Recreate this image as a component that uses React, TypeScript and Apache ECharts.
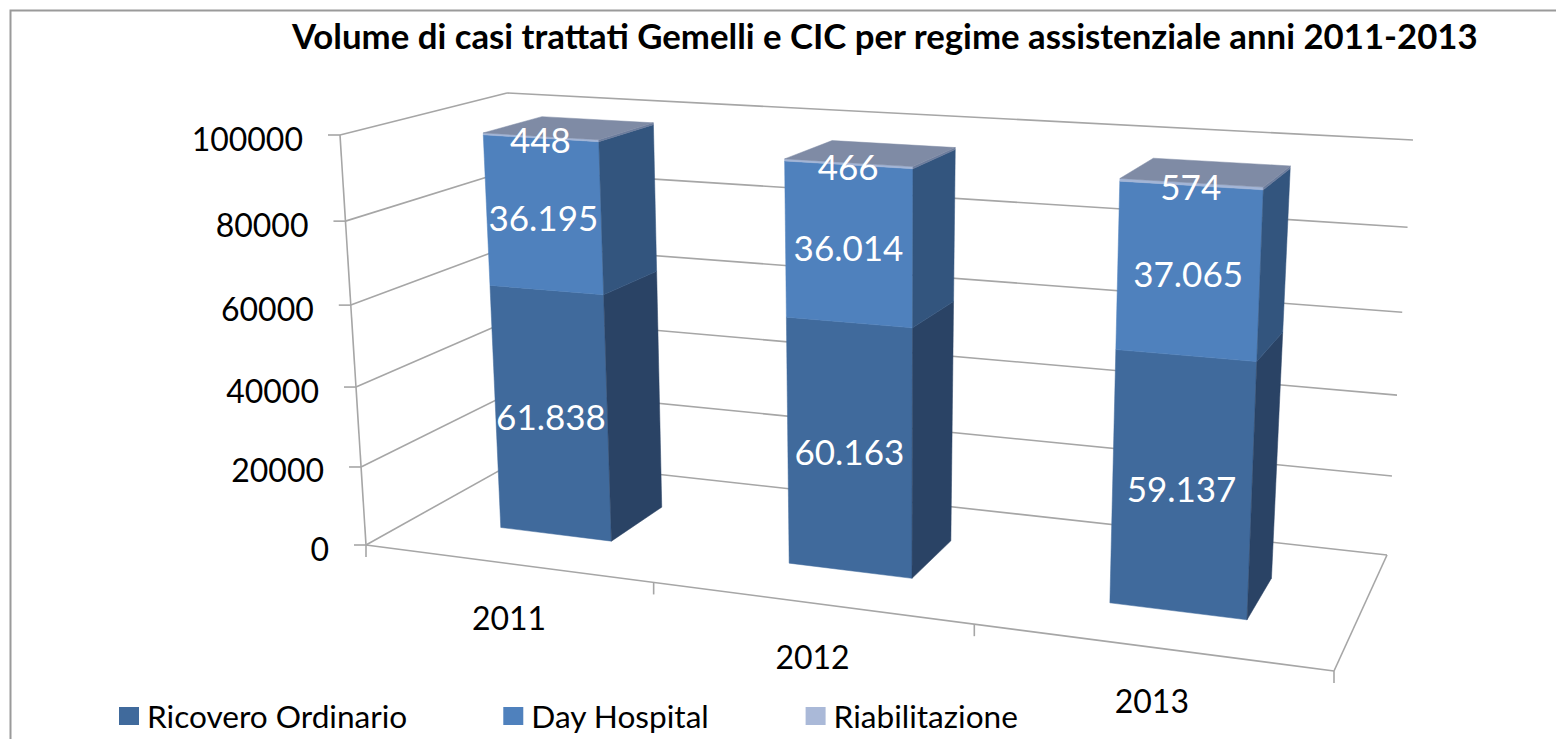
import React, { useEffect, useRef } from "react";
import * as echarts from "echarts";

const titleText = "Volume di casi trattati Gemelli e CIC per regime assistenziale anni 2011-2013";
const categories = ["2011", "2012", "2013"];
const ricovero = [61838, 60163, 59137];
const dayHospital = [36195, 36014, 37065];
const riabilitazione = [448, 466, 574];
const yTicks = [0, 20000, 40000, 60000, 80000, 100000];

const FONT = "Lato";
type P = [number, number];
function homography(p0: P, p1: P, p2: P, p3: P) {
  const dx1 = p1[0] - p2[0], dx2 = p3[0] - p2[0], sx = p0[0] - p1[0] + p2[0] - p3[0];
  const dy1 = p1[1] - p2[1], dy2 = p3[1] - p2[1], sy = p0[1] - p1[1] + p2[1] - p3[1];
  const den = dx1 * dy2 - dx2 * dy1;
  const g = (sx * dy2 - dx2 * sy) / den, h = (dx1 * sy - sx * dy1) / den;
  const a = p1[0] - p0[0] + g * p1[0], b = p3[0] - p0[0] + h * p3[0], c = p0[0];
  const d = p1[1] - p0[1] + g * p1[1], e = p3[1] - p0[1] + h * p3[1], f = p0[1];
  return (u: number, w: number): P => {
    const q = g * u + h * w + 1;
    return [(a * u + b * w + c) / q, (d * u + e * w + f) / q];
  };
}
// box corners: floor and ceiling of the 3D plot as seen on the page
const floor = homography([366, 545], [1334, 671], [1387, 555], [520, 459]);
const ceil = homography([340, 135], [1354, 197], [1413, 140], [507, 93]);
const VC = 0.06;
function project(u: number, v: number, w: number): P {
  const f = floor(u, w), c = ceil(u, w);
  const t = (v * (1 - VC)) / (1 - VC * v);
  return [f[0] + (c[0] - f[0]) * t, f[1] + (c[1] - f[1]) * t];
}
// hidden cartesian grid, used as the scale for (category, value)
const G = { left: 100, top: 100, width: 1000, height: 500 };
const norm = (pt: number[]) => [(pt[0] - G.left) / G.width, (G.top + G.height - pt[1]) / G.height];

const HALF = 0.198;   // half bar width, in band units
const SHIFT = 0.004;
const W0 = 0.3, W1 = 0.67;
const LABEL_GAP = 37;
const fmt = (n: number) => String(n).replace(/\B(?=(\d{3})+$)/g, ".");

const poly = (pts: P[], fill: string) => ({
  type: "polygon",
  shape: { points: pts },
  style: { fill, stroke: fill, lineWidth: 0.5 },
});
const line = (a: P, b: P) => ({
  type: "line",
  shape: { x1: a[0], y1: a[1], x2: b[0], y2: b[1] },
  style: { stroke: "#a6a6a6", lineWidth: 1.6 },
});

function barSeries(name: string, values: number[], bases: number[], front: string, side: string, top: string | null, legendColor: string) {
  return {
    type: "custom",
    name,
    coordinateSystem: "cartesian2d",
    itemStyle: { color: legendColor },
    data: values.map((v, i) => [i, bases[i], bases[i] + v, v]),
    encode: { x: 0, y: 2 },
    renderItem: (_p: any, api: any) => {
      const cat = api.value(0);
      const base = api.coord([cat, api.value(1)]);
      const end = api.coord([cat, api.value(2)]);
      const band = api.size([1, 0])[0] / G.width;
      const u = norm(base)[0] + SHIFT;
      const v0 = norm(base)[1], v1 = norm(end)[1];
      const ul = u - HALF * band, ur = u + HALF * band;
      const a = project(ul, v0, W0), b = project(ur, v0, W0), c = project(ur, v1, W0), d = project(ul, v1, W0);
      const e = project(ur, v0, W1), f = project(ur, v1, W1), g = project(ul, v1, W1);
      const children: any[] = [poly([a, b, c, d], front), poly([b, e, f, c], side)];
      if (top) children.push(poly([d, c, f, g], top));
      const lp = project(u, (v0 + v1) / 2, W0);
      children.push({
        type: "text",
        x: lp[0],
        y: lp[1] + 2,
        z2: 50,
        style: {
          text: fmt(api.value(3)),
          fill: "#ffffff",
          font: `35px ${FONT}`,
          align: "center",
          verticalAlign: "middle",
        },
      });
      return { type: "group", children };
    },
  };
}

const baseDay = ricovero;
const baseRiab = ricovero.map((v, i) => v + dayHospital[i]);

export default function App() {
  const ref = useRef<HTMLDivElement>(null);
  useEffect(() => {
    const chart = echarts.init(ref.current!, undefined, { renderer: "svg" });
    const frame = {
      type: "custom",
      coordinateSystem: "cartesian2d",
      silent: true,
      data: yTicks.map((t) => [0, t]),
      encode: { x: 0, y: 1 },
      renderItem: (p: any, api: any) => {
        const val = api.value(1);
        const v = norm(api.coord([0, val]))[1];
        const a = project(0, v, 0);
        const b = project(0, v, 1);
        const c = project(1, v, 1);
        const children: any[] = [line(a, b), line(b, c), line([a[0] - 12, a[1]], a)];
        children.push({
          type: "text",
          x: a[0] - LABEL_GAP,
          y: a[1] + 3,
          style: { text: String(val), fill: "#000", font: `32px ${FONT}`, align: "right", verticalAlign: "middle" },
        });
        if (p.dataIndex === 0) {
          children.push(line(project(0, 0, 0), project(0, 1, 0)));
          children.push(line(project(0, 0, 0), project(1, 0, 0)));
          children.push(line(project(1, 0, 0), project(1, 0, 1)));
          const n = categories.length;
          for (let i = 0; i <= n; i++) {
            const q = project(i / n, 0, 0);
            children.push(line(q, [q[0], q[1] + 12]));
          }
          categories.forEach((name, i) => {
            const q = project((i + 0.5) / n, 0, 0);
            children.push({
              type: "text",
              x: q[0] + 3,
              y: q[1] + 54,
              style: { text: name, fill: "#000", font: `32px ${FONT}`, align: "center", verticalAlign: "middle" },
            });
          });
        }
        return { type: "group", children };
      },
    };
    chart.setOption({
      animation: false,
      backgroundColor: "#fff",
      title: {
        text: titleText,
        left: 287,
        top: 13,
        textStyle: { fontFamily: FONT, fontWeight: "bold", fontSize: 34.75, color: "#000" },
      },
      grid: G,
      xAxis: { type: "category", data: categories, show: false },
      yAxis: { type: "value", min: 0, max: 100000, interval: 20000, show: false },
      legend: {
        left: 114,
        top: 695,
        data: ["Ricovero Ordinario", "Day Hospital", "Riabilitazione"],
        itemWidth: 20,
        itemHeight: 18,
        itemGap: 96,
        icon: "rect",
        selectedMode: false,
        textStyle: { fontFamily: FONT, fontSize: 31.6, color: "#000", padding: [0, 0, 0, 3] },
      },
      graphic: [
        {
          type: "rect",
          shape: { x: 10.5, y: 10.5, width: 1600, height: 800 },
          style: { fill: "none", stroke: "#9a9a9a", lineWidth: 2 },
          silent: true,
        },
      ],
      series: [
        frame,
        barSeries("Ricovero Ordinario", ricovero, ricovero.map(() => 0), "#406a9c", "#2a4365", null, "#406a9c"),
        barSeries("Day Hospital", dayHospital, baseDay, "#4f81bd", "#33557e", null, "#4f81bd"),
        barSeries("Riabilitazione", riabilitazione, baseRiab, "#a3b5d6", "#6c7c9c", "#7f8ba5", "#aab9d8"),
      ],
    });
    return () => chart.dispose();
  }, []);
  return <div ref={ref} style={{ position: "absolute", left: 0, top: 0, width: 1556, height: 739 }} />;
}
